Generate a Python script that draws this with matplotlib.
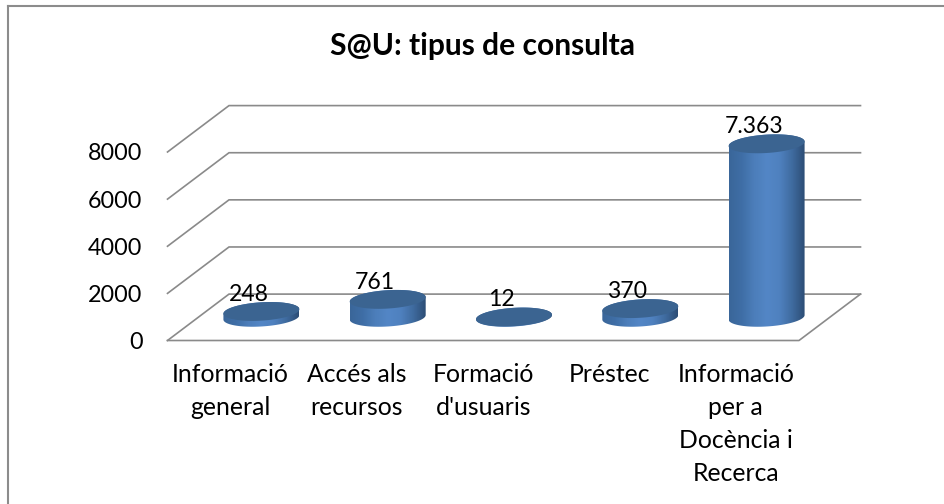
import numpy as np
import matplotlib
matplotlib.use("Agg")
import matplotlib.pyplot as plt
from matplotlib.colors import LinearSegmentedColormap
from matplotlib.lines import Line2D
from matplotlib.patches import Polygon

categories = ["Informació\ngeneral", "Accés als\nrecursos", "Formació\nd'usuaris",
              "Préstec", "Informació\nper a\nDocència i\nRecerca"]
values = [248, 761, 12, 370, 7363]
value_labels = ["248", "761", "12", "370", "7.363"]
y_ticks = [0, 2000, 4000, 6000, 8000]
title = "S@U: tipus de consulta"

W, H = 944, 504
plt.rcParams["font.family"] = ["Lato", "DejaVu Sans"]
fig = plt.figure(figsize=(W / 100, H / 100), dpi=100)
fig.patch.set_facecolor("white")

# front plane of the 3-D box, in pixels
X0, X1, Y0, Y8 = 167.5, 799.0, 340.5, 152.0
ax = fig.add_axes([X0 / W, 1 - Y0 / H, (X1 - X0) / W, (Y0 - Y8) / H])
ax.set_facecolor("none")
for s in ax.spines.values():
    s.set_visible(False)

px_x = 5 / (X1 - X0)
px_y = 8000 / (Y0 - Y8)
DX, DY = 61.5 * px_x, 46.4 * px_y     # box depth
grid_c = "#8a8a8a"
lw = 1.2

for v in y_ticks:
    ax.plot([0, DX, 5 + DX], [v, v + DY, v + DY], color=grid_c, lw=lw, clip_on=False,
            solid_joinstyle="miter", zorder=1)
ax.plot([0, 5, 5 + DX], [0, 0, DY], color=grid_c, lw=lw, clip_on=False, zorder=1)

# cylinders sit half way into the depth of the box
A, B, C = 36.9 * px_x, 9.0 * px_x, 9.45 * px_y
cmap = LinearSegmentedColormap.from_list(
    "cyl", ["#3a6699", "#3f6ea6", "#4c7eba", "#5386c6", "#4f81bf", "#3f6b9f", "#2c4d75"])
cap_color = "#3b6491"
t = np.linspace(0, 2 * np.pi, 361)
t_right = np.arctan2(B, A)
grad = np.linspace(0, 1, 256).reshape(1, -1)

for i, v in enumerate(values):
    cx = i + 0.5 + DX / 2
    base = DY / 2
    top = base + v
    w = np.hypot(A, B)
    # lower arc of the base, from rightmost to leftmost point, and upper arc of the top
    lower = np.linspace(t_right, t_right - np.pi, 100)
    upper = np.linspace(t_right - np.pi, t_right - 2 * np.pi, 100)
    xs = np.r_[cx + A * np.cos(lower) + B * np.sin(lower), cx + A * np.cos(upper) + B * np.sin(upper)]
    ys = np.r_[base + C * np.sin(lower), top + C * np.sin(upper)]
    im = ax.imshow(grad, cmap=cmap, aspect="auto", zorder=3,
                   extent=[cx - w, cx + w, base - C, top + C], interpolation="bilinear")
    clip = Polygon(np.c_[xs, ys], closed=True, transform=ax.transData, fc="none", ec="none", clip_on=False)
    ax.add_patch(clip)
    im.set_clip_path(clip)
    im.set_clip_box(fig.bbox)
    ax.fill(cx + A * np.cos(t) + B * np.sin(t), top + C * np.sin(t), color=cap_color, lw=0,
            zorder=4, clip_on=False)
    ax.annotate(value_labels[i], (cx, top), xytext=(-13, 10.7), textcoords="offset pixels",
                ha="center", va="baseline", fontsize=16.6, color="black", zorder=5,
                annotation_clip=False)

ax.set_xlim(0, 5)
ax.set_ylim(0, 8000)
ax.set_xticks(np.arange(5) + 0.5)
ax.set_xticklabels(categories, fontsize=17.8, linespacing=1.53, ha="center", va="top")
ax.set_yticks(y_ticks)
ax.set_yticklabels([str(v) for v in y_ticks], fontsize=16.8)
ax.tick_params(axis="x", length=0, pad=16)
ax.tick_params(axis="y", length=0, pad=18)

fig.text(482 / W, 1 - 55 / H, title, ha="center", va="baseline", fontsize=21.6,
         fontweight="bold", color="black")

# chart frame: only the top and left edges show in the picture
fig.add_artist(Line2D([7.5 / W, 1], [1 - 5.8 / H, 1 - 5.8 / H], color="#8c8c8c", lw=1.5))
fig.add_artist(Line2D([7.8 / W, 7.8 / W], [0, 1 - 5.8 / H], color="#8c8c8c", lw=1.5))

fig.savefig("out.png", dpi=100)
